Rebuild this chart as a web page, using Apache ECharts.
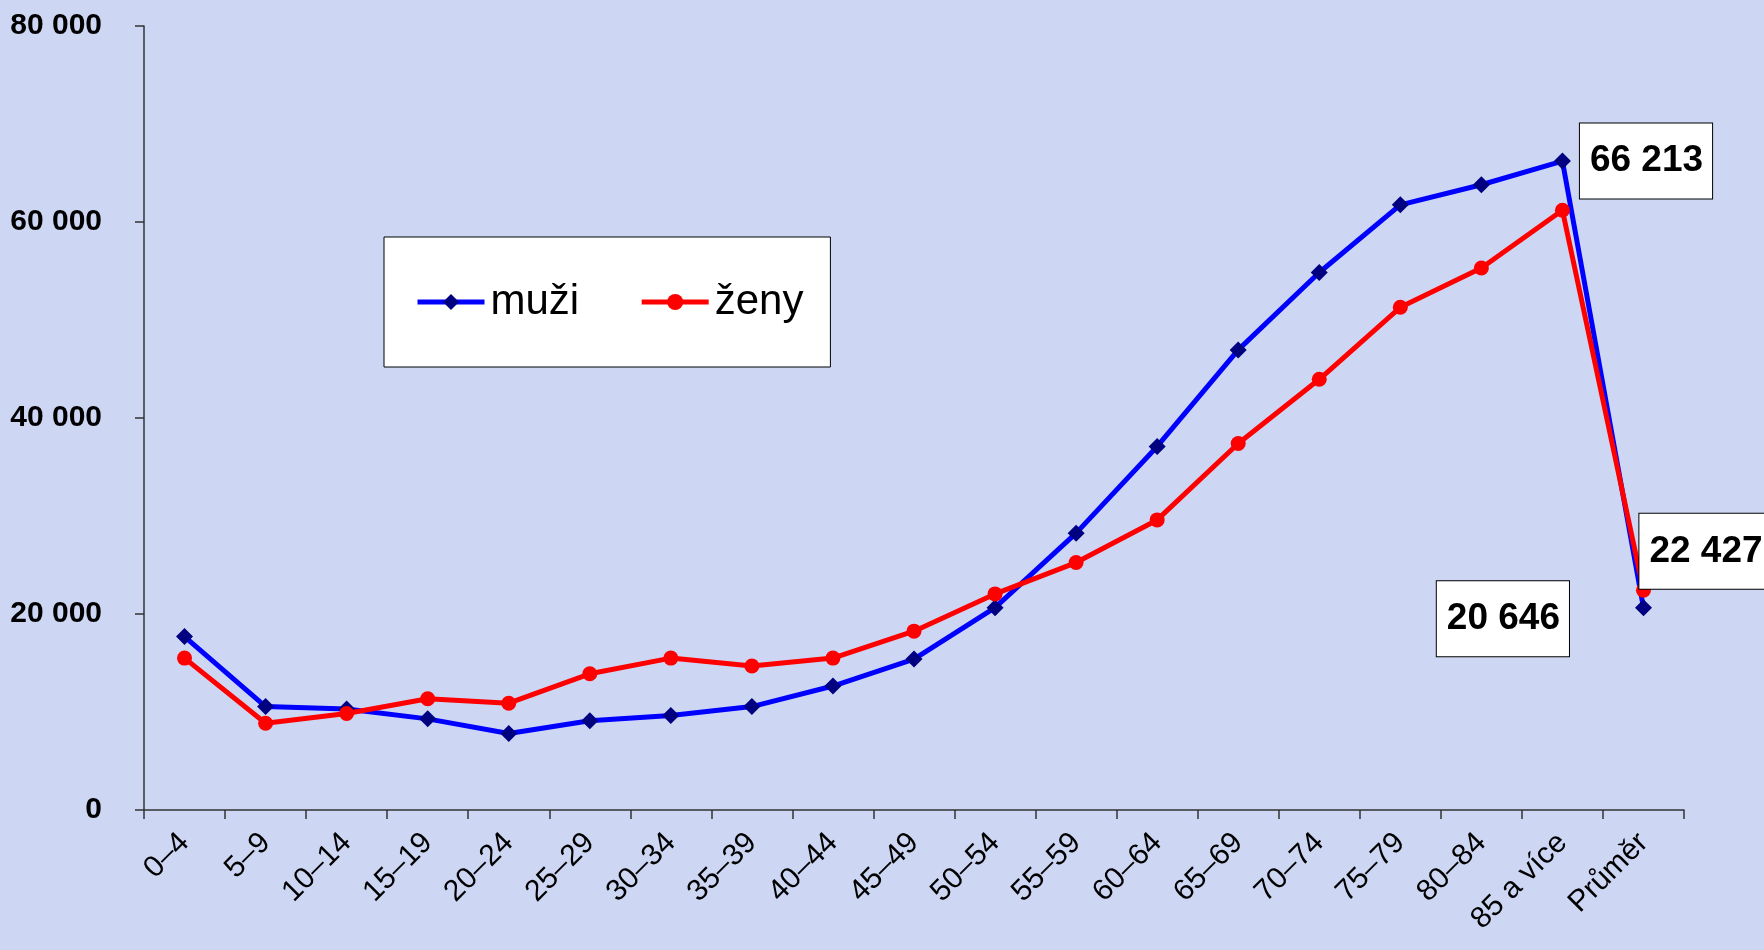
<!DOCTYPE html>
<html>
<head>
<meta charset="utf-8">
<script src="https://cdn.jsdelivr.net/npm/echarts@6/dist/echarts.min.js"></script>
<style>
  html, body { margin: 0; padding: 0; background: #cdd7f4; }
  #chart { width: 1764px; height: 950px; }
</style>
</head>
<body>
<div id="chart"></div>
<script>
// věkové skupiny
const categories = ["0–4", "5–9", "10–14", "15–19", "20–24", "25–29", "30–34", "35–39",
  "40–44", "45–49", "50–54", "55–59", "60–64", "65–69", "70–74", "75–79", "80–84",
  "85 a více", "Průměr"];

const muzi = [17700, 10550, 10300, 9300, 7800, 9100, 9650, 10550, 12650, 15400,
  20650, 28250, 37100, 46950, 54850, 61750, 63800, 66213, 20646];

const zeny = [15500, 8850, 9850, 11350, 10900, 13900, 15500, 14700, 15500, 18250,
  22050, 25250, 29600, 37400, 43950, 51300, 55300, 61200, 22427];

const yTicks = [0, 20000, 40000, 60000, 80000];

const FONT = "'Liberation Sans', Arial, sans-serif";

const fmt = v => String(v).replace(/\B(?=(\d{3})+(?!\d))/g, " ");

const boxLabel = {
  show: true,
  formatter: p => fmt(p.value),
  color: "#000",
  fontFamily: FONT,
  fontWeight: "bold",
  fontSize: 37,
  backgroundColor: "#ffffff",
  borderColor: "#000",
  borderWidth: 1,
  padding: [20, 9, 18, 10]
};

// popisky jen u vybraných bodů
const muziData = muzi.map((v, i) => {
  if (i === 17) return { value: v, label: { ...boxLabel, position: "right", distance: 9 } };
  if (i === 18) return { value: v, label: { ...boxLabel, position: "left", distance: 66, offset: [0, 11] } };
  return v;
});
const zenyData = zeny.map((v, i) => {
  if (i === 18) return { value: v, label: { ...boxLabel, position: "top", distance: 0, offset: [62, 6] } };
  return v;
});

const chart = echarts.init(document.getElementById("chart"));
chart.setOption({
  backgroundColor: "#cdd7f4",
  animation: false,
  textStyle: { fontFamily: FONT },
  grid: { left: 144, right: 80, top: 26, bottom: 140, containLabel: false },
  legend: {
    left: 384,
    top: 237,
    orient: "horizontal",
    backgroundColor: "#ffffff",
    borderColor: "#000",
    borderWidth: 1,
    padding: [44, 27, 44, 31],
    itemWidth: 67,
    itemHeight: 20,
    itemGap: 60,
    lineStyle: { width: 5 },
    textStyle: { fontSize: 42, color: "#000", fontFamily: FONT, padding: [0, 0, 0, 1] },
    data: ["muži", "ženy"]
  },
  xAxis: {
    type: "category",
    data: categories,
    boundaryGap: true,
    axisLine: { lineStyle: { color: "#333", width: 1.5 } },
    axisTick: { show: true, length: 9, inside: false, lineStyle: { color: "#333", width: 1.5 } },
    axisLabel: { interval: 0, rotate: 45, margin: 28, fontSize: 30, color: "#000", fontFamily: FONT },
    splitLine: { show: false }
  },
  yAxis: {
    type: "value",
    min: yTicks[0],
    max: yTicks[yTicks.length - 1],
    interval: yTicks[1] - yTicks[0],
    axisLine: { show: true, lineStyle: { color: "#333", width: 1.5 } },
    axisTick: { show: true, length: 9, lineStyle: { color: "#333", width: 1.5 } },
    axisLabel: { margin: 42, fontSize: 30, fontWeight: "bold", color: "#000", fontFamily: FONT, formatter: fmt },
    splitLine: { show: false }
  },
  series: [
    {
      name: "muži",
      type: "line",
      data: muziData,
      symbol: "diamond",
      symbolSize: 17,
      lineStyle: { color: "#0000ff", width: 5 },
      itemStyle: { color: "#000080" },
      z: 3
    },
    {
      name: "ženy",
      type: "line",
      data: zenyData,
      symbol: "circle",
      symbolSize: 15,
      lineStyle: { color: "#ff0000", width: 5 },
      itemStyle: { color: "#ff0000" },
      z: 4
    }
  ]
});
</script>
</body>
</html>
